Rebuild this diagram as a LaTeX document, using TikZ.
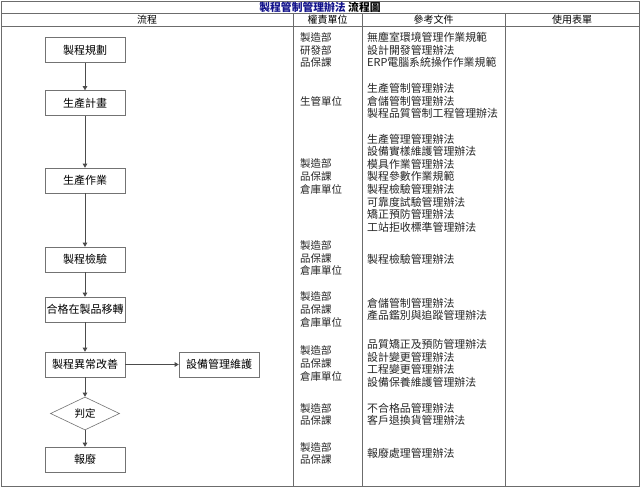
\documentclass[tikz,border=0pt]{standalone}
\usepackage{fontspec}
\setmainfont{Noto Sans CJK TC}
\usetikzlibrary{shapes.geometric,arrows.meta}
\definecolor{titleblue}{RGB}{20,20,140}
\begin{document}
\begin{tikzpicture}[x=1pt,y=-1pt,
  tbl/.style={draw=gray!85!black, line width=0.8pt},
  flowbox/.style={draw=gray!90!black, line width=0.6pt, minimum width=80pt, minimum height=25pt, inner sep=0pt, font=\fontsize{11}{13}\selectfont},
  decision/.style={draw=gray!90!black, line width=0.6pt, diamond, aspect=2.1, minimum width=69pt, minimum height=33pt, inner sep=0pt, font=\fontsize{10.5}{13}\selectfont},
  txt/.style={font=\fontsize{10.5}{12.55}\selectfont, anchor=west, align=left, inner sep=0pt, text=black!85},
  doc/.style={txt, font=\fontsize{10.9}{12.55}\selectfont},
  hdr/.style={font=\fontsize{10}{12}\selectfont, inner sep=0pt},
  arr/.style={draw=gray!60!black, line width=0.6pt, -{Triangle[length=4pt,width=4.5pt]}}]
\useasboundingbox (0,0) rectangle (640,487);
\fill[white] (0,0) rectangle (640,487);
% table
\draw[tbl] (1,1) rectangle (639,486);
\draw[tbl] (1,13.5) -- (639,13.5);
\draw[tbl] (1,26.5) -- (639,26.5);
\draw[tbl] (293,13.5) -- (293,486);
\draw[tbl] (362,13.5) -- (362,486);
\draw[tbl] (505,13.5) -- (505,486);
% title and headers
\node[hdr, font=\fontsize{10.8}{12}\bfseries] (title) at (320,7) {\textcolor{titleblue}{製程管制管理辦法} 流程圖};
\node[hdr] (h1) at (147,20) {流程};
\node[hdr] (h2) at (327.5,20) {權責單位};
\node[hdr] (h3) at (433.5,20) {參考文件};
\node[hdr] (h4) at (572,20) {使用表單};
% flow
\node[flowbox] (a) at (85,50) {製程規劃};
\node[flowbox] (b) at (85,103) {生產計畫};
\node[flowbox] (c) at (85,180.5) {生產作業};
\node[flowbox] (d) at (85,259.5) {製程檢驗};
\node[flowbox] (e) at (85,309.5) {合格在製品移轉};
\node[flowbox] (f) at (85,364.5) {製程異常改善};
\node[flowbox] (g) at (219,364.5) {設備管理維護};
\node[decision] (j) at (85,413.5) {判定};
\node[flowbox] (k) at (85,459.5) {報廢};
\draw[arr] (a) -- (b);
\draw[arr] (b) -- (c);
\draw[arr] (c) -- (d);
\draw[arr] (d) -- (e);
\draw[arr] (e) -- (f);
\draw[arr] (f) -- (g);
\draw[arr] (f) -- (j);
\draw[arr] (j) -- (k);
% responsibility
\node[txt] (r1) at (300,50) {製造部\\研發部\\品保課};
\node[txt] (r2) at (300,101) {生管單位};
\node[txt] (r3) at (300,176.5) {製造部\\品保課\\倉庫單位};
\node[txt] (r4) at (300,258) {製造部\\品保課\\倉庫單位};
\node[txt] (r5) at (300,309.5) {製造部\\品保課\\倉庫單位};
\node[txt] (r6) at (300,363.5) {製造部\\品保課\\倉庫單位};
\node[txt] (r7) at (300,414.5) {製造部\\品保課};
\node[txt] (r8) at (300,453.5) {製造部\\品保課};
% documents
\node[doc] (d1) at (367,50) {無塵室環境管理作業規範\\設計開發管理辦法\\ERP電腦系統操作作業規範};
\node[doc] (d2) at (367,101) {生產管制管理辦法\\倉儲管制管理辦法\\製程品質管制工程管理辦法};
\node[doc] (d3) at (367,183) {生產管理管理辦法\\設備實樣維護管理辦法\\模具作業管理辦法\\製程參數作業規範\\製程檢驗管理辦法\\可靠度試驗管理辦法\\矯正預防管理辦法\\工站拒收標準管理辦法};
\node[doc] (d4) at (367,259) {製程檢驗管理辦法};
\node[doc] (d5) at (367,309.5) {倉儲管制管理辦法\\產品鑑別與追蹤管理辦法};
\node[doc] (d6) at (367,363.5) {品質矯正及預防管理辦法\\設計變更管理辦法\\工程變更管理辦法\\設備保養維護管理辦法};
\node[doc] (d7) at (367,414.5) {不合格品管理辦法\\客戶退換貨管理辦法};
\node[doc] (d8) at (367,453) {報廢處理管理辦法};
\end{tikzpicture}
\end{document}
